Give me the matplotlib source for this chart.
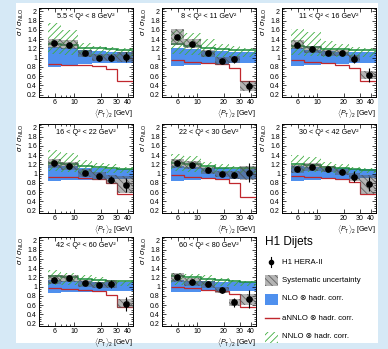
import numpy as np
import matplotlib.pyplot as plt
from matplotlib.patches import Rectangle
from matplotlib.ticker import FixedLocator, MultipleLocator, NullFormatter, FuncFormatter

plt.rcParams['font.family'] = ['Liberation Sans', 'DejaVu Sans']
plt.rcParams['mathtext.fontset'] = 'custom'
plt.rcParams['mathtext.rm'] = 'Liberation Sans'
plt.rcParams['mathtext.it'] = 'Liberation Sans:italic'
plt.rcParams['hatch.linewidth'] = 0.6

# -----------------------------
# Data (ratio to NLO), 6 <PT>_2 bins per Q^2 bin
# -----------------------------
edges = [5, 7, 11, 16, 23, 30, 50]
q2_labels = ["5.5 < Q² < 8 GeV²", "8 < Q² < 11 GeV²", "11 < Q² < 16 GeV²",
             "16 < Q² < 22 GeV²", "22 < Q² < 30 GeV²", "30 < Q² < 42 GeV²",
             "42 < Q² < 60 GeV²", "60 < Q² < 80 GeV²"]

data_val = [[1.31, 1.28, 1.09, 1.00, 1.00, 1.01],
            [1.44, 1.30, 1.09, 0.93, 0.96, 0.38],
            [1.28, 1.18, 1.10, 1.10, 0.98, 0.63],
            [1.22, 1.16, 1.01, 0.95, 0.87, 0.76],
            [1.22, 1.19, 1.07, 0.99, 0.97, 1.02],
            [1.10, 1.14, 1.10, 1.04, 0.93, 0.77],
            [1.15, 1.18, 1.07, 1.04, 1.06, 0.63],
            [1.20, 1.10, 1.05, 0.93, 0.66, 0.73]]
stat_err = [[0.02, 0.02, 0.03, 0.04, 0.07, 0.10],
            [0.03, 0.02, 0.03, 0.05, 0.08, 0.12],
            [0.02, 0.02, 0.03, 0.04, 0.10, 0.15],
            [0.02, 0.02, 0.03, 0.04, 0.07, 0.15],
            [0.02, 0.02, 0.03, 0.05, 0.07, 0.20],
            [0.02, 0.02, 0.03, 0.05, 0.12, 0.15],
            [0.02, 0.02, 0.03, 0.04, 0.08, 0.15],
            [0.02, 0.03, 0.04, 0.06, 0.10, 0.20]]
sys_err = [[0.10, 0.09, 0.08, 0.08, 0.08, 0.10],
           [0.17, 0.10, 0.08, 0.08, 0.08, 0.11],
           [0.10, 0.08, 0.07, 0.07, 0.08, 0.09],
           [0.10, 0.09, 0.08, 0.08, 0.09, 0.18],
           [0.09, 0.08, 0.07, 0.07, 0.08, 0.15],
           [0.09, 0.08, 0.07, 0.07, 0.08, 0.20],
           [0.09, 0.08, 0.07, 0.07, 0.08, 0.10],
           [0.09, 0.08, 0.07, 0.07, 0.08, 0.12]]
nlo_lo = [[0.80, 0.82, 0.86, 0.88, 0.88, 0.88],
          [0.82, 0.84, 0.86, 0.87, 0.88, 0.88],
          [0.82, 0.84, 0.86, 0.87, 0.88, 0.89],
          [0.84, 0.86, 0.87, 0.88, 0.88, 0.89],
          [0.84, 0.86, 0.88, 0.88, 0.89, 0.89],
          [0.85, 0.87, 0.88, 0.89, 0.89, 0.90],
          [0.86, 0.88, 0.89, 0.89, 0.90, 0.90],
          [0.88, 0.89, 0.90, 0.90, 0.90, 0.90]]
nlo_hi = [[1.22, 1.20, 1.16, 1.14, 1.13, 1.12],
          [1.20, 1.18, 1.15, 1.14, 1.13, 1.12],
          [1.20, 1.17, 1.14, 1.13, 1.12, 1.11],
          [1.18, 1.16, 1.13, 1.12, 1.10, 1.10],
          [1.17, 1.15, 1.12, 1.11, 1.10, 1.10],
          [1.16, 1.14, 1.12, 1.11, 1.10, 1.10],
          [1.15, 1.13, 1.12, 1.11, 1.10, 1.10],
          [1.15, 1.13, 1.12, 1.11, 1.10, 1.10]]
nnlo_lo = [[1.08, 1.06, 1.02, 1.02, 1.02, 1.02],
           [1.08, 1.06, 1.02, 1.02, 1.02, 1.02],
           [1.06, 1.04, 1.02, 1.02, 1.02, 1.02],
           [1.05, 1.04, 1.02, 1.01, 1.01, 1.01],
           [1.05, 1.04, 1.02, 1.01, 1.01, 1.01],
           [1.04, 1.03, 1.02, 1.01, 1.01, 1.01],
           [1.04, 1.03, 1.02, 1.01, 1.01, 1.01],
           [1.04, 1.03, 1.02, 1.01, 1.01, 1.01]]
nnlo_mid = [[1.30, 1.28, 1.21, 1.20, 1.18, 1.16],
            [1.30, 1.26, 1.20, 1.18, 1.17, 1.16],
            [1.24, 1.22, 1.19, 1.18, 1.17, 1.16],
            [1.22, 1.21, 1.17, 1.15, 1.13, 1.10],
            [1.22, 1.20, 1.16, 1.13, 1.12, 1.12],
            [1.20, 1.19, 1.15, 1.12, 1.10, 1.08],
            [1.22, 1.20, 1.17, 1.15, 1.13, 1.12],
            [1.22, 1.20, 1.17, 1.14, 1.12, 1.10]]
nnlo_hi = [[1.75, 1.60, 1.32, 1.26, 1.22, 1.20],
           [1.60, 1.52, 1.40, 1.30, 1.25, 1.20],
           [1.62, 1.55, 1.35, 1.30, 1.22, 1.20],
           [1.50, 1.45, 1.30, 1.22, 1.20, 1.15],
           [1.42, 1.38, 1.25, 1.20, 1.17, 1.15],
           [1.40, 1.35, 1.25, 1.20, 1.15, 1.13],
           [1.35, 1.30, 1.25, 1.20, 1.15, 1.13],
           [1.30, 1.28, 1.24, 1.18, 1.15, 1.12]]
annlo = [[0.87, 0.85, 0.84, 0.82, 0.75, 0.50],
         [0.95, 0.90, 0.88, 0.86, 0.78, 0.50],
         [0.95, 0.90, 0.88, 0.85, 0.78, 0.50],
         [0.92, 0.92, 0.90, 0.88, 0.80, 0.55],
         [0.96, 0.93, 0.90, 0.88, 0.80, 0.50],
         [0.95, 0.93, 0.90, 0.88, 0.82, 0.55],
         [0.98, 0.95, 0.92, 0.90, 0.82, 0.55],
         [1.00, 0.97, 0.93, 0.90, 0.85, 0.55]]

xticks = [6, 10, 20, 30, 40]
yticks = [0.2, 0.4, 0.6, 0.8, 1.0, 1.2, 1.4, 1.6, 1.8, 2.0]

# -----------------------------
# Style
# -----------------------------
W, H = 388, 349
nlo_color = '#4f90ee'
hatch_green = '#3fae3f'
line_green = '#1b8c3c'
red = '#c0272d'
bg_blue = '#d6e9f6'

fig = plt.figure(figsize=(W / 100, H / 100), dpi=100)
fig.patch.set_facecolor(bg_blue)
fig.add_artist(Rectangle((16 / W, 1 - 343 / H), (378 - 16) / W, (343 - 3) / H,
                         transform=fig.transFigure, facecolor='white', edgecolor='none', zorder=0))

col_left = [39, 162, 282]
ax_w = 94
row_top = [8, 124, 237]
ax_h = 89

centers = np.sqrt(np.array(edges[:-1]) * np.array(edges[1:]))
widths = np.diff(edges)

for i in range(8):
    r, c = divmod(i, 3)
    ax = fig.add_axes([col_left[c] / W, 1 - (row_top[r] + ax_h) / H, ax_w / W, ax_h / H])
    ax.set_xscale('log')
    ax.set_xlim(4.0, 46)
    ax.set_ylim(0.15, 2.07)

    ax.stairs(nlo_hi[i], edges, baseline=nlo_lo[i], fill=True, color=nlo_color, lw=0, zorder=1)
    ax.stairs(nnlo_hi[i], edges, baseline=nnlo_lo[i], fill=True, facecolor='none',
              edgecolor=hatch_green, hatch='/////', lw=0, zorder=2)
    ax.stairs(nnlo_mid[i], edges, color=line_green, lw=1.1, baseline=None, zorder=3)
    ax.stairs(annlo[i], edges, color=red, lw=0.9, baseline=None, zorder=3)

    vals = np.array(data_val[i])
    sys = np.array(sys_err[i])
    for j in range(6):
        ax.add_patch(Rectangle((edges[j], vals[j] - sys[j]), widths[j], 2 * sys[j],
                               facecolor=(0.35, 0.35, 0.35, 0.45), edgecolor=(0.3, 0.3, 0.3, 0.8),
                               hatch='\\\\\\\\\\', lw=0, zorder=4))
    ax.errorbar(centers, vals, yerr=stat_err[i], fmt='o', ms=3.8, color='black',
                elinewidth=0.8, capsize=0, zorder=5)

    ax.text(0.5, 0.94, q2_labels[i], transform=ax.transAxes, ha='center', va='top', fontsize=5.2)

    ax.xaxis.set_major_locator(FixedLocator(xticks))
    ax.xaxis.set_major_formatter(FuncFormatter(lambda v, p: f"{v:g}"))
    ax.xaxis.set_minor_locator(FixedLocator([5, 7, 8, 9]))
    ax.xaxis.set_minor_formatter(NullFormatter())
    ax.yaxis.set_major_locator(FixedLocator(yticks))
    ax.yaxis.set_major_formatter(FuncFormatter(lambda v, p: f"{v:g}"))
    ax.yaxis.set_minor_locator(MultipleLocator(0.05))
    ax.tick_params(which='both', direction='in', top=True, right=True, width=0.5,
                   labelsize=5, pad=1.5)
    ax.tick_params(which='major', length=3)
    ax.tick_params(which='minor', length=1.5)
    for s in ax.spines.values():
        s.set_linewidth(0.7)

    ax.set_xlabel(r"$\langle P_\mathrm{T}\rangle_2$ [GeV]", loc='right', fontsize=5, labelpad=1)
    ax.set_ylabel(r"$\sigma\ /\ \sigma_\mathrm{NLO}$", loc='top', fontsize=5.5, labelpad=1)

# -----------------------------
# Legend block
# -----------------------------
def fx(x):
    return x / W

def fy(y):
    return 1 - y / H

fig.text(fx(265), fy(242), "H1 Dijets", fontsize=8.5, va='center', ha='left')
entries = ["H1 HERA-II", "Systematic uncertainty", "NLO ⊗ hadr. corr.",
           "aNNLO ⊗ hadr. corr.", "NNLO ⊗ hadr. corr."]
ys = [262, 280, 299, 318, 337]
for lab, yy in zip(entries, ys):
    fig.text(fx(282), fy(yy), lab, fontsize=5.6, va='center', ha='left')
bw, bh = 13 / W, 11 / H
# data marker
fig.add_artist(plt.Line2D([fx(271)], [fy(ys[0])], marker='o', ms=3, color='black',
                          transform=fig.transFigure))
fig.add_artist(plt.Line2D([fx(271), fx(271)], [fy(ys[0] - 5), fy(ys[0] + 5)], lw=0.8,
                          color='black', transform=fig.transFigure))
fig.add_artist(Rectangle((fx(265), fy(ys[1] + 5.5)), bw, bh,
                         transform=fig.transFigure, facecolor=(0.35, 0.35, 0.35, 0.45),
                         edgecolor=(0.3, 0.3, 0.3, 0.8), hatch='\\\\\\\\\\', lw=0))
fig.add_artist(Rectangle((fx(265), fy(ys[2] + 5.5)), bw, bh,
                         transform=fig.transFigure, facecolor=nlo_color, lw=0))
fig.add_artist(plt.Line2D([fx(265), fx(279)], [fy(ys[3]), fy(ys[3])], lw=1.0, color=red,
                          transform=fig.transFigure))
fig.add_artist(Rectangle((fx(265), fy(ys[4] + 5.5)), bw, bh,
                         transform=fig.transFigure, facecolor='none', edgecolor=hatch_green,
                         hatch='/////', lw=0))

fig.savefig("out.png", dpi=100, facecolor=fig.get_facecolor())
